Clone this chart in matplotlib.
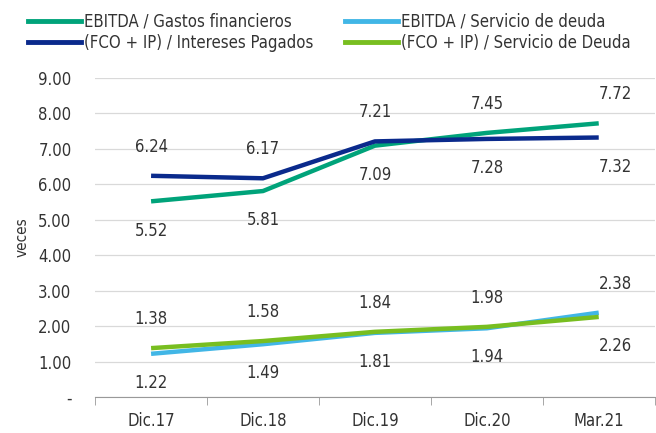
import matplotlib
matplotlib.use('Agg')
import matplotlib.pyplot as plt
from matplotlib.lines import Line2D

plt.rcParams['font.family'] = ['DejaVu Sans']
plt.rcParams['font.stretch'] = 'condensed'

categories = ['Dic.17', 'Dic.18', 'Dic.19', 'Dic.20', 'Mar.21']
ebitda_gastos = [5.52, 5.81, 7.09, 7.45, 7.72]
fco_intereses = [6.24, 6.17, 7.21, 7.28, 7.32]
ebitda_servicio = [1.22, 1.49, 1.81, 1.94, 2.38]
fco_servicio = [1.38, 1.58, 1.84, 1.98, 2.26]

# label placement: +1 above, -1 below
pos_gastos = [-1, -1, -1, 1, 1]
pos_intereses = [1, 1, 1, -1, -1]
pos_ebitda_serv = [-1, -1, -1, -1, 1]
pos_fco_serv = [1, 1, 1, 1, -1]

# order gives the row-wise legend of the reference
series = [
    ('EBITDA / Gastos financieros', ebitda_gastos, '#00A37A', pos_gastos),
    ('(FCO + IP) / Intereses Pagados', fco_intereses, '#0A2A8C', pos_intereses),
    ('EBITDA / Servicio de deuda', ebitda_servicio, '#41B6E6', pos_ebitda_serv),
    ('(FCO + IP) / Servicio de Deuda', fco_servicio, '#78BE20', pos_fco_serv),
]

fig = plt.figure(figsize=(6.56, 4.33), dpi=100)
ax = fig.add_axes([0.145, 0.083, 0.853, 0.737])

x = range(len(categories))
txt_color = '#333333'
for name, vals, color, pos in series:
    ax.plot(x, vals, color=color, lw=3.2, solid_capstyle='butt', zorder=3)
    for i, (v, p) in enumerate(zip(vals, pos)):
        dx = 12 if i == len(vals) - 1 else 0
        ax.annotate(f'{v:.2f}', (i, v), xytext=(dx, 21 * p), textcoords='offset points',
                    ha='center', va='center', fontsize=12, color=txt_color)

ax.set_xlim(-0.5, 4.5)
ax.set_ylim(0, 9)
ax.set_yticks(range(0, 10))
ax.set_yticklabels(['-'] + [f'{v:.2f}' for v in range(1, 10)])
ax.set_xticks(list(x))
ax.set_xticklabels(categories)
ax.set_xticks([i - 0.5 for i in range(len(categories) + 1)], minor=True)
ax.tick_params(axis='x', which='major', length=0, pad=11, labelsize=12, colors=txt_color)
ax.tick_params(axis='x', which='minor', length=6, color='#999999')
ax.tick_params(axis='y', length=0, pad=17, labelsize=12, colors=txt_color)
ax.yaxis.grid(True, color='#d9d9d9', lw=0.9)
ax.set_axisbelow(True)
for s in ['left', 'right', 'top']:
    ax.spines[s].set_visible(False)
ax.spines['bottom'].set_color('#999999')
ax.spines['bottom'].set_zorder(4)
ax.set_ylabel('veces', fontsize=11, color=txt_color, labelpad=6)

handles = [Line2D([0], [0], color=c, lw=3.5) for _, _, c, _ in series]
labels = [n for n, _, _, _ in series]
fig.legend(handles, labels, ncol=2, loc='upper left', bbox_to_anchor=(0.02, 1.005),
           frameon=False, fontsize=12, handlelength=3.2, handletextpad=0.15,
           columnspacing=1.9, labelspacing=0.2, labelcolor=txt_color)

fig.savefig('out.png', dpi=100)
